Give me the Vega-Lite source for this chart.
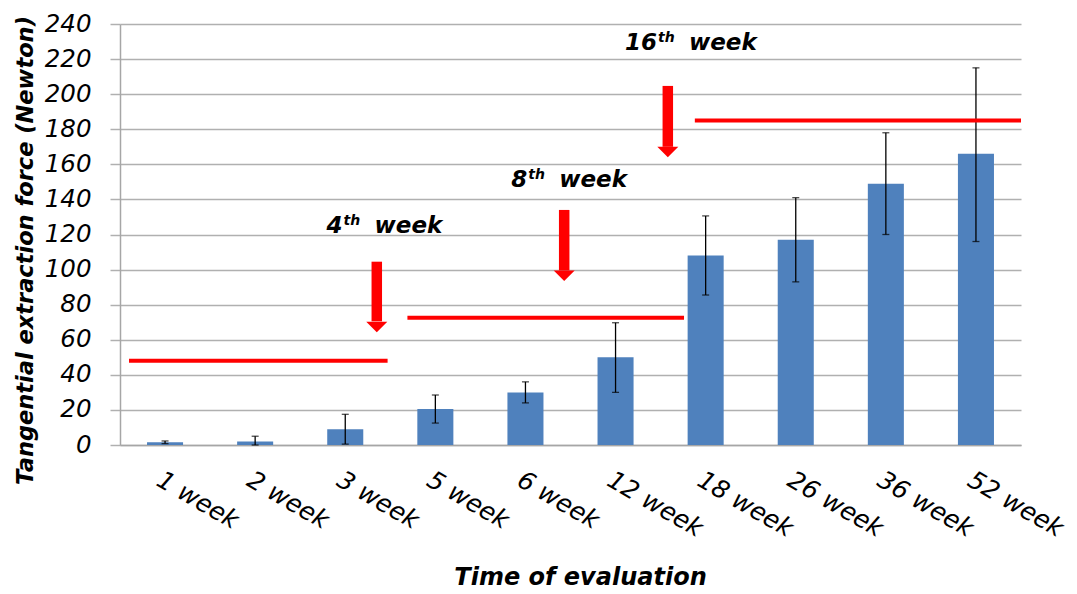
{
  "$schema": "https://vega.github.io/schema/vega-lite/v6.json",
  "width": 901,
  "height": 421,
  "autosize": "none",
  "padding": {"left": 120, "top": 24, "right": 56, "bottom": 149},
  "background": "white",
  "config": {"view": {"stroke": null}},
  "datasets": {
    "bars": [
      {"week": "1 week", "mean": 1.5, "low": 0.8, "high": 2.3},
      {"week": "2 week", "mean": 2, "low": 0, "high": 5},
      {"week": "3 week", "mean": 9, "low": 0.5, "high": 17.5},
      {"week": "5 week", "mean": 20.5, "low": 12.5, "high": 28.5},
      {"week": "6 week", "mean": 30, "low": 24, "high": 36},
      {"week": "12 week", "mean": 50, "low": 30, "high": 69.7},
      {"week": "18 week", "mean": 108, "low": 85.5, "high": 130.6},
      {"week": "26 week", "mean": 117, "low": 93, "high": 141},
      {"week": "36 week", "mean": 149, "low": 120, "high": 178},
      {"week": "52 week", "mean": 166, "low": 116, "high": 215}
    ],
    "periods": [
      {"x1": 0.1, "x2": 2.97, "level": 48},
      {"x1": 3.19, "x2": 6.26, "level": 72.5},
      {"x1": 6.38, "x2": 10.0, "level": 185}
    ],
    "arrows": [
      {"x": 2.85, "top": 104.5, "base": 70.5, "tip": 64.3},
      {"x": 4.93, "top": 134, "base": 99.5, "tip": 93.5},
      {"x": 6.08, "top": 204.7, "base": 170, "tip": 164}
    ],
    "notes": [
      {"x": 2.47, "y": 120.9, "num": "4", "sup": "th", "word": "week"},
      {"x": 4.52, "y": 147.3, "num": "8", "sup": "th", "word": "week"},
      {"x": 5.96, "y": 225, "num": "16", "sup": "th", "word": "week"}
    ]
  },
  "layer": [
    {
      "data": {"name": "bars"},
      "encoding": {
        "x": {
          "field": "week", "type": "nominal", "sort": null,
          "scale": {"paddingInner": 0.6, "paddingOuter": 0.3},
          "axis": {
            "title": "Time of evaluation",
            "titleFont": "DejaVu Sans", "titleFontSize": 24, "titleFontWeight": "bold", "titleFontStyle": "italic",
            "titleColor": "black", "titleX": 460, "titleY": 139, "titleBaseline": "alphabetic",
            "labelFont": "DejaVu Sans", "labelFontSize": 25, "labelFontStyle": "italic", "labelColor": "black",
            "labelAngle": 30, "labelAlign": "left", "labelBaseline": "top", "labelPadding": 22,
            "ticks": false, "domain": true, "domainColor": "#a6a6a6", "domainWidth": 1.5, "grid": false
          }
        },
        "y": {
          "field": "mean", "type": "quantitative",
          "scale": {"domain": [0, 240], "nice": false},
          "axis": {
            "title": "Tangential extraction force (Newton)",
            "titleFont": "DejaVu Sans", "titleFontSize": 22.5, "titleFontWeight": "bold", "titleFontStyle": "italic",
            "titleColor": "black", "titleX": -95, "titleY": 226, "titleAngle": -90, "titleAlign": "center", "titleBaseline": "middle",
            "values": [0, 20, 40, 60, 80, 100, 120, 140, 160, 180, 200, 220, 240],
            "labelFont": "DejaVu Sans", "labelFontSize": 24.5, "labelFontStyle": "italic", "labelColor": "black",
            "labelPadding": 19, "tickSize": 10, "tickColor": "#b0b0b0", "tickWidth": 1.5,
            "grid": true, "gridColor": "#b0b0b0", "gridWidth": 1.5,
            "domainColor": "#a6a6a6", "domainWidth": 1.5
          }
        }
      },
      "layer": [
        {
          "mark": {"type": "bar", "color": "#4f81bd"}
        },
        {
          "mark": {"type": "rule", "color": "black", "strokeWidth": 1.3},
          "encoding": {
            "y": {"field": "low", "type": "quantitative"},
            "y2": {"field": "high"}
          }
        },
        {
          "mark": {"type": "tick", "color": "black", "size": 7, "thickness": 1.3, "orient": "horizontal"},
          "encoding": {"y": {"field": "low", "type": "quantitative"}}
        },
        {
          "mark": {"type": "tick", "color": "black", "size": 7, "thickness": 1.3, "orient": "horizontal"},
          "encoding": {"y": {"field": "high", "type": "quantitative"}}
        }
      ]
    },
    {
      "layer": [
        {
          "data": {"name": "periods"},
          "mark": {"type": "rule", "color": "#ff0000", "strokeWidth": 4},
          "encoding": {
            "x": {"field": "x1", "type": "quantitative", "scale": {"domain": [0, 10], "nice": false, "zero": false}, "axis": null},
            "x2": {"field": "x2"},
            "y": {"field": "level", "type": "quantitative", "scale": {"domain": [0, 240], "nice": false}, "axis": null}
          }
        },
        {
          "data": {"name": "arrows"},
          "mark": {"type": "rule", "color": "#ff0000", "strokeWidth": 10.5},
          "encoding": {
            "x": {"field": "x", "type": "quantitative", "scale": {"domain": [0, 10], "nice": false, "zero": false}, "axis": null},
            "y": {"field": "top", "type": "quantitative", "scale": {"domain": [0, 240], "nice": false}, "axis": null},
            "y2": {"field": "base"}
          }
        },
        {
          "data": {"name": "arrows"},
          "mark": {"type": "point", "shape": "M-1,-1L1,-1L0,0Z", "filled": true, "color": "#ff0000", "opacity": 1, "size": 441, "strokeWidth": 0},
          "encoding": {
            "x": {"field": "x", "type": "quantitative", "scale": {"domain": [0, 10], "nice": false, "zero": false}, "axis": null},
            "y": {"field": "tip", "type": "quantitative", "scale": {"domain": [0, 240], "nice": false}, "axis": null}
          }
        },
        {
          "data": {"name": "notes"},
          "mark": {"type": "text", "align": "right", "baseline": "alphabetic", "font": "DejaVu Sans", "fontSize": 23, "fontWeight": "bold", "fontStyle": "italic", "color": "black"},
          "encoding": {
            "x": {"field": "x", "type": "quantitative", "scale": {"domain": [0, 10], "nice": false, "zero": false}, "axis": null},
            "y": {"field": "y", "type": "quantitative", "scale": {"domain": [0, 240], "nice": false}, "axis": null},
            "text": {"field": "num"}
          }
        },
        {
          "data": {"name": "notes"},
          "mark": {"type": "text", "align": "left", "baseline": "alphabetic", "dx": 1, "dy": -8, "font": "DejaVu Sans", "fontSize": 14, "fontWeight": "bold", "fontStyle": "italic", "color": "black"},
          "encoding": {
            "x": {"field": "x", "type": "quantitative", "scale": {"domain": [0, 10], "nice": false, "zero": false}, "axis": null},
            "y": {"field": "y", "type": "quantitative", "scale": {"domain": [0, 240], "nice": false}, "axis": null},
            "text": {"field": "sup"}
          }
        },
        {
          "data": {"name": "notes"},
          "mark": {"type": "text", "align": "left", "baseline": "alphabetic", "dx": 32, "font": "DejaVu Sans", "fontSize": 23, "fontWeight": "bold", "fontStyle": "italic", "color": "black"},
          "encoding": {
            "x": {"field": "x", "type": "quantitative", "scale": {"domain": [0, 10], "nice": false, "zero": false}, "axis": null},
            "y": {"field": "y", "type": "quantitative", "scale": {"domain": [0, 240], "nice": false}, "axis": null},
            "text": {"field": "word"}
          }
        }
      ]
    }
  ],
  "resolve": {"scale": {"x": "independent"}, "axis": {"y": "independent"}}
}
